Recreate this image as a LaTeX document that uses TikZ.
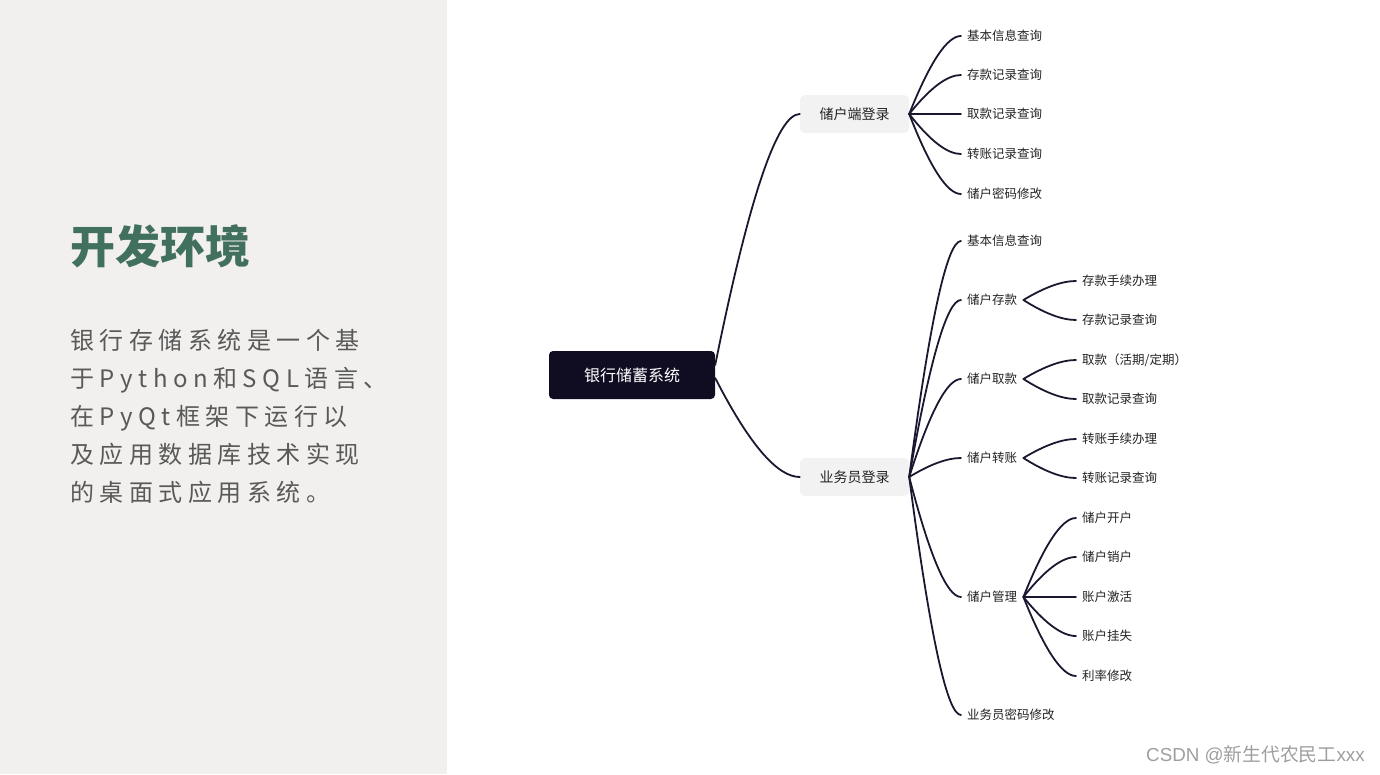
\documentclass[tikz,border=0pt]{standalone}
\usepackage{fontspec}
\newfontfamily\cjk{Noto Sans CJK SC}
\newfontfamily\cjkwide[LetterSpace=23]{Noto Sans CJK SC}
\newfontfamily\latin{Liberation Sans}
\usepackage{tikz}
\usetikzlibrary{calc}
\usepackage{xcolor}
\definecolor{panelgray}{HTML}{F1F0EE}
\definecolor{titlegreen}{HTML}{41705F}
\definecolor{bodygray}{HTML}{595959}
\definecolor{rootnavy}{HTML}{100D22}
\definecolor{boxgray}{HTML}{F2F2F2}
\definecolor{linknavy}{HTML}{1A1830}
\definecolor{leafdark}{HTML}{232323}
\definecolor{markgray}{HTML}{9E9E9E}

\tikzset{
  rootbox/.style={fill=rootnavy, rounded corners=4pt, minimum width=166pt,
                  minimum height=48pt, text=white, font=\cjk\fontsize{16}{19}\selectfont},
  hubbox/.style={fill=boxgray, rounded corners=5pt, minimum width=109pt,
                 minimum height=38pt, text=leafdark, font=\cjk\fontsize{14}{17}\selectfont},
  leaf/.style={anchor=west, inner xsep=6pt, inner ysep=2pt, text=leafdark,
               font=\cjk\fontsize{12.5}{15}\selectfont},
  link/.style={line width=1.8pt, linknavy, line cap=round},
  branch/.style={to path={let \p1=(\tikztostart), \p2=(\tikztotarget) in
      .. controls ({\x1+0.4*(\x2-\x1)},{\y1+0.667*(\y2-\y1)})
      and ({\x2-0.267*(\x2-\x1)},\y2) .. (\tikztotarget)}}
}

\begin{document}
\begin{tikzpicture}[x=1pt, y=-1pt]
  \useasboundingbox (0,0) rectangle (1380,774);
  \fill[panelgray] (0,0) rectangle (447,774);

  % left panel
  \node[anchor=west, inner sep=0pt, text=titlegreen,
        font=\cjk\bfseries\fontsize{45}{52}\selectfont] (title) at (70,246) {开发环境};
  \node[anchor=west, inner sep=0pt, text=bodygray, align=left,
        font=\cjkwide\fontsize{24}{38}\selectfont] (intro) at (70,416)
    {银行存储系统是一个基\\于Python和SQL语言、\\在PyQt框架下运行以\\及应用数据库技术实现\\的桌面式应用系统。};

  % mind map
  \node[rootbox] (bank) at (632,375) {银行储蓄系统};
  \node[hubbox] (cust) at (854.5,114) {储户端登录};
  \node[hubbox] (staff) at (854.5,477) {业务员登录};

  \node[leaf] (cinfo) at (961,36) {基本信息查询};
  \node[leaf] (cdep) at (961,75) {存款记录查询};
  \node[leaf] (cwd) at (961,114) {取款记录查询};
  \node[leaf] (ctr) at (961,154) {转账记录查询};
  \node[leaf] (cpwd) at (961,194) {储户密码修改};

  \node[leaf] (sinfo) at (961,241) {基本信息查询};
  \node[leaf] (dep) at (961,300) {储户存款};
  \node[leaf] (wd) at (961,379) {储户取款};
  \node[leaf] (tr) at (961,458) {储户转账};
  \node[leaf] (mgmt) at (961,597) {储户管理};
  \node[leaf] (spwd) at (961,715) {业务员密码修改};

  \node[leaf] (depdo) at (1076,281) {存款手续办理};
  \node[leaf] (deplog) at (1076,320) {存款记录查询};
  \node[leaf] (wddo) at (1076,360) {取款（活期/定期）};
  \node[leaf] (wdlog) at (1076,399) {取款记录查询};
  \node[leaf] (trdo) at (1076,439) {转账手续办理};
  \node[leaf] (trlog) at (1076,478) {转账记录查询};
  \node[leaf] (mopen) at (1076,518) {储户开户};
  \node[leaf] (mclose) at (1076,557) {储户销户};
  \node[leaf] (mact) at (1076,597) {账户激活};
  \node[leaf] (mlost) at (1076,636) {账户挂失};
  \node[leaf] (mrate) at (1076,676) {利率修改};

  \draw[link] ([yshift=10pt]bank.east) to[branch] (cust.west);
  \draw[link] ([yshift=-3pt]bank.east) to[branch] (staff.west);

  \draw[link] (cust.east) to[branch] (cinfo.west);
  \draw[link] (cust.east) to[branch] (cdep.west);
  \draw[link] (cust.east) to[branch] (cwd.west);
  \draw[link] (cust.east) to[branch] (ctr.west);
  \draw[link] (cust.east) to[branch] (cpwd.west);

  \draw[link] (staff.east) to[branch] (sinfo.west);
  \draw[link] (staff.east) to[branch] (dep.west);
  \draw[link] (staff.east) to[branch] (wd.west);
  \draw[link] (staff.east) to[branch] (tr.west);
  \draw[link] (staff.east) to[branch] (mgmt.west);
  \draw[link] (staff.east) to[branch] (spwd.west);

  \draw[link] (dep.east) to[branch] (depdo.west);
  \draw[link] (dep.east) to[branch] (deplog.west);
  \draw[link] (wd.east) to[branch] (wddo.west);
  \draw[link] (wd.east) to[branch] (wdlog.west);
  \draw[link] (tr.east) to[branch] (trdo.west);
  \draw[link] (tr.east) to[branch] (trlog.west);
  \draw[link] (mgmt.east) to[branch] (mopen.west);
  \draw[link] (mgmt.east) to[branch] (mclose.west);
  \draw[link] (mgmt.east) to[branch] (mact.west);
  \draw[link] (mgmt.east) to[branch] (mlost.west);
  \draw[link] (mgmt.east) to[branch] (mrate.west);

  \node[anchor=west, inner sep=0pt, text=markgray,
        font=\cjk\fontsize{18.8}{22}\selectfont] (mark) at (1146,755)
    {{\latin CSDN @}新生代农民工{\latin xxx}};
\end{tikzpicture}
\end{document}
